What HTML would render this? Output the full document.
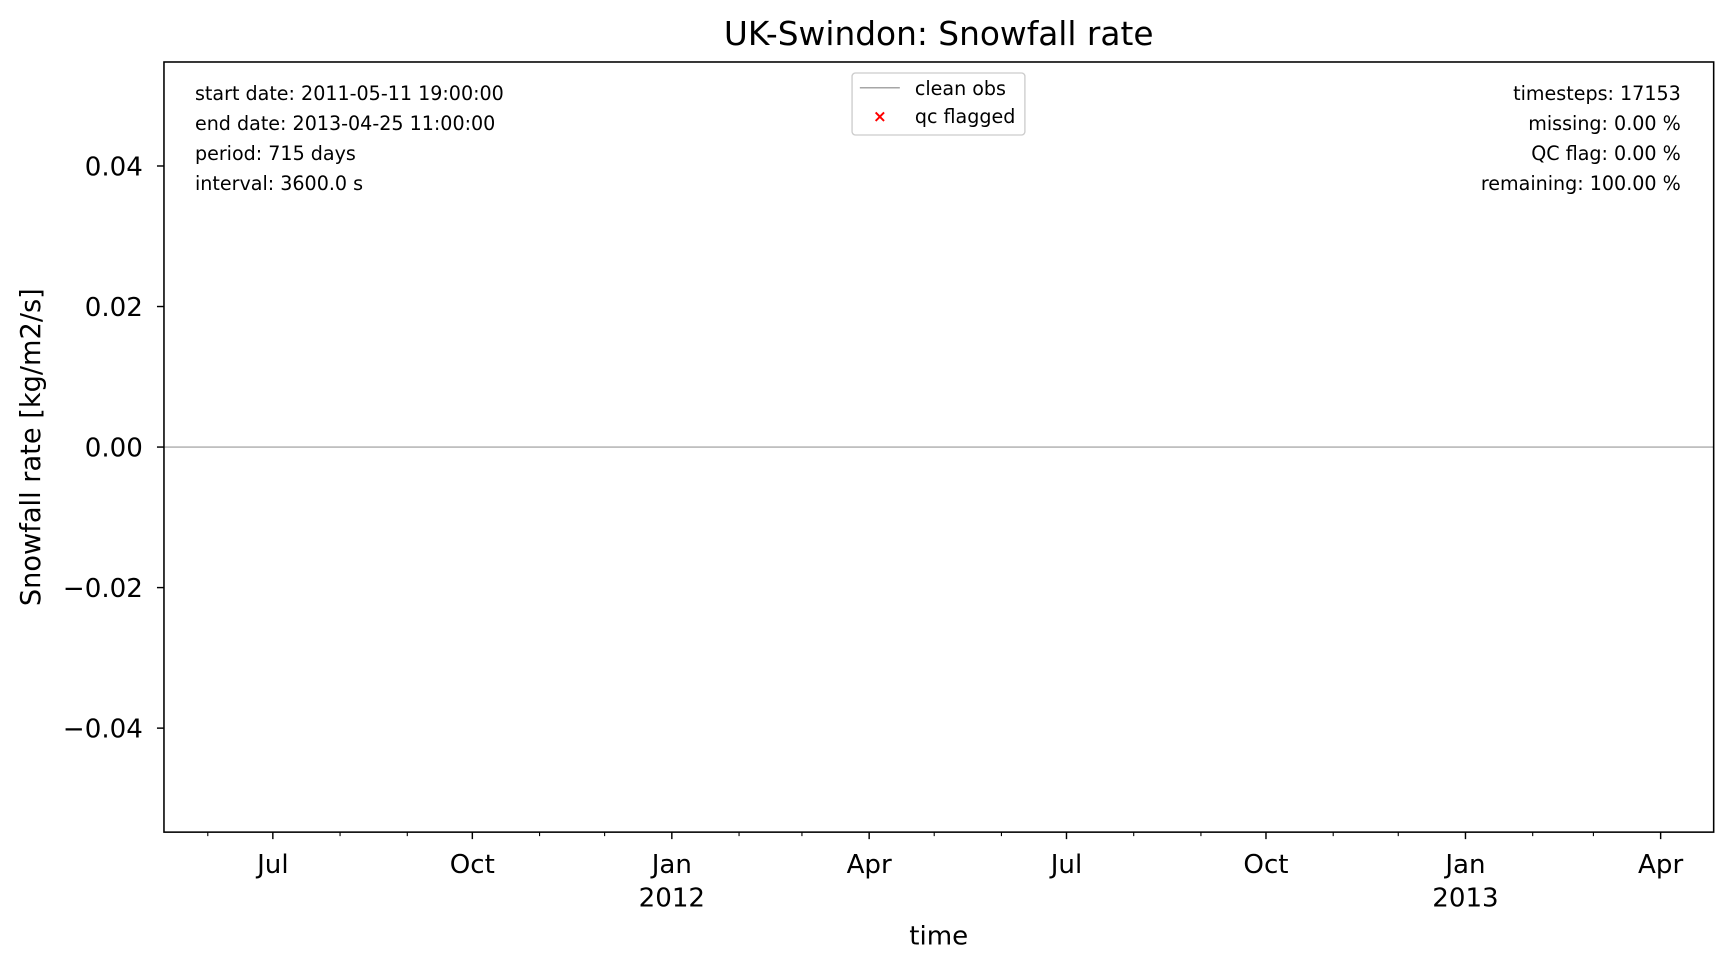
<!DOCTYPE html>
<html><head><meta charset="utf-8"><style>
html,body{margin:0;padding:0;background:#fff;}
svg{display:block;font-family:"DejaVu Sans","Liberation Sans",sans-serif;}
</style></head><body>
<svg id="chart" width="1733" height="971" viewBox="0 0 1560 874" preserveAspectRatio="none" xmlns="http://www.w3.org/2000/svg">
<text x="845" y="40.5" font-size="29.5" text-anchor="middle">UK-Swindon: Snowfall rate</text>
<g id="plot"></g>
<rect x="147.6" y="55.8" width="1395" height="693.2" fill="none" stroke="#000" stroke-width="1.4"/>
<g font-size="17.2">
<text x="175.5" y="90">start date: 2011-05-11 19:00:00</text>
<text x="175.5" y="117">end date: 2013-04-25 11:00:00</text>
<text x="175.5" y="144">period: 715 days</text>
<text x="175.5" y="171">interval: 3600.0 s</text>
</g>
<g font-size="17.2" text-anchor="end">
<text x="1513" y="90">timesteps: 17153</text>
<text x="1513" y="117">missing: 0.00 %</text>
<text x="1513" y="144">QC flag: 0.00 %</text>
<text x="1513" y="171">remaining: 100.00 %</text>
</g>
<g>
<rect x="767" y="65.7" width="155.6" height="55.8" rx="3" fill="#fff" stroke="#ccc" stroke-width="1.2"/>
<line x1="774" y1="79" x2="810" y2="79" stroke="#888" stroke-width="1"/>
<text x="823.5" y="85.5" font-size="17.2">clean obs</text>
<text x="792" y="110" font-size="15" fill="red" text-anchor="middle" font-weight="bold">×</text>
<text x="823.5" y="110.7" font-size="17.2">qc flagged</text>
</g>
<text x="845" y="850" font-size="23.5" text-anchor="middle">time</text>
<text transform="translate(36,402.5) rotate(-90)" font-size="24.5" text-anchor="middle">Snowfall rate [kg/m2/s]</text>
</svg>
<script>
const yTicks=[0.04,0.02,0.00,-0.02,-0.04];
const yTickLabels=["0.04","0.02","0.00","\u22120.02","\u22120.04"];
const majorDates=["2011-07-01","2011-10-01","2012-01-01","2012-04-01","2012-07-01","2012-10-01","2013-01-01","2013-04-01"];
const majorLabels=["Jul","Oct","Jan","Apr","Jul","Oct","Jan","Apr"];
const yearLabels=["","","2012","","","","2013",""];
const minorDates=["2011-06-01","2011-08-01","2011-09-01","2011-11-01","2011-12-01","2012-02-01","2012-03-01","2012-05-01","2012-06-01","2012-08-01","2012-09-01","2012-11-01","2012-12-01","2013-02-01","2013-03-01"];
const seriesTimes=["2011-05-11T19:00:00","2013-04-25T11:00:00"];
const seriesValues=[0,0];
const xStart=Date.parse("2011-05-11T19:00:00Z"),xEnd=Date.parse("2013-04-25T11:00:00Z");
const L=147.6,R=1542.6,T=55.8,B=749,yMin=-0.0548,yMax=0.0548;
const xs=d=>L+(Date.parse(d.length>10?d+"Z":d+"T00:00:00Z")-xStart)/(xEnd-xStart)*(R-L);
const ys=v=>B-(v-yMin)/(yMax-yMin)*(B-T);
const NS="http://www.w3.org/2000/svg";
const g=document.getElementById("plot");
function mk(t,a){const e=document.createElementNS(NS,t);for(const k in a)e.setAttribute(k,a[k]);g.appendChild(e);return e;}
yTicks.forEach((v,i)=>{
 const l=mk("line",{x1:L-6.3,x2:L,y1:ys(v),y2:ys(v),stroke:"#000","stroke-width":1.3});
 
 
 const t=mk("text",{x:L-19,y:ys(v)+8.5,"font-size":23.5,"text-anchor":"end"});t.textContent=yTickLabels[i];
 
 
});
majorDates.forEach((d,i)=>{
 const x=xs(d);
 const l=mk("line",{x1:x,x2:x,y1:B,y2:B+6.3,stroke:"#000","stroke-width":1.3});
 
 
 const t=mk("text",{x:x,y:B+37,"font-size":23.5,"text-anchor":"middle"});t.textContent=majorLabels[i];
 
 
 if(yearLabels[i]){const y=mk("text",{x:x,y:B+67,"font-size":23.5,"text-anchor":"middle"});y.textContent=yearLabels[i];
 
 }
});
minorDates.forEach(d=>{
 const x=xs(d);
 const l=mk("line",{x1:x,x2:x,y1:B,y2:B+3.6,stroke:"#000","stroke-width":1});
 
 
});
const p=mk("polyline",{points:seriesTimes.map((d,i)=>xs(d)+","+ys(seriesValues[i])).join(" "),fill:"none",stroke:"#999","stroke-width":1.1});


</script>
</body></html>
